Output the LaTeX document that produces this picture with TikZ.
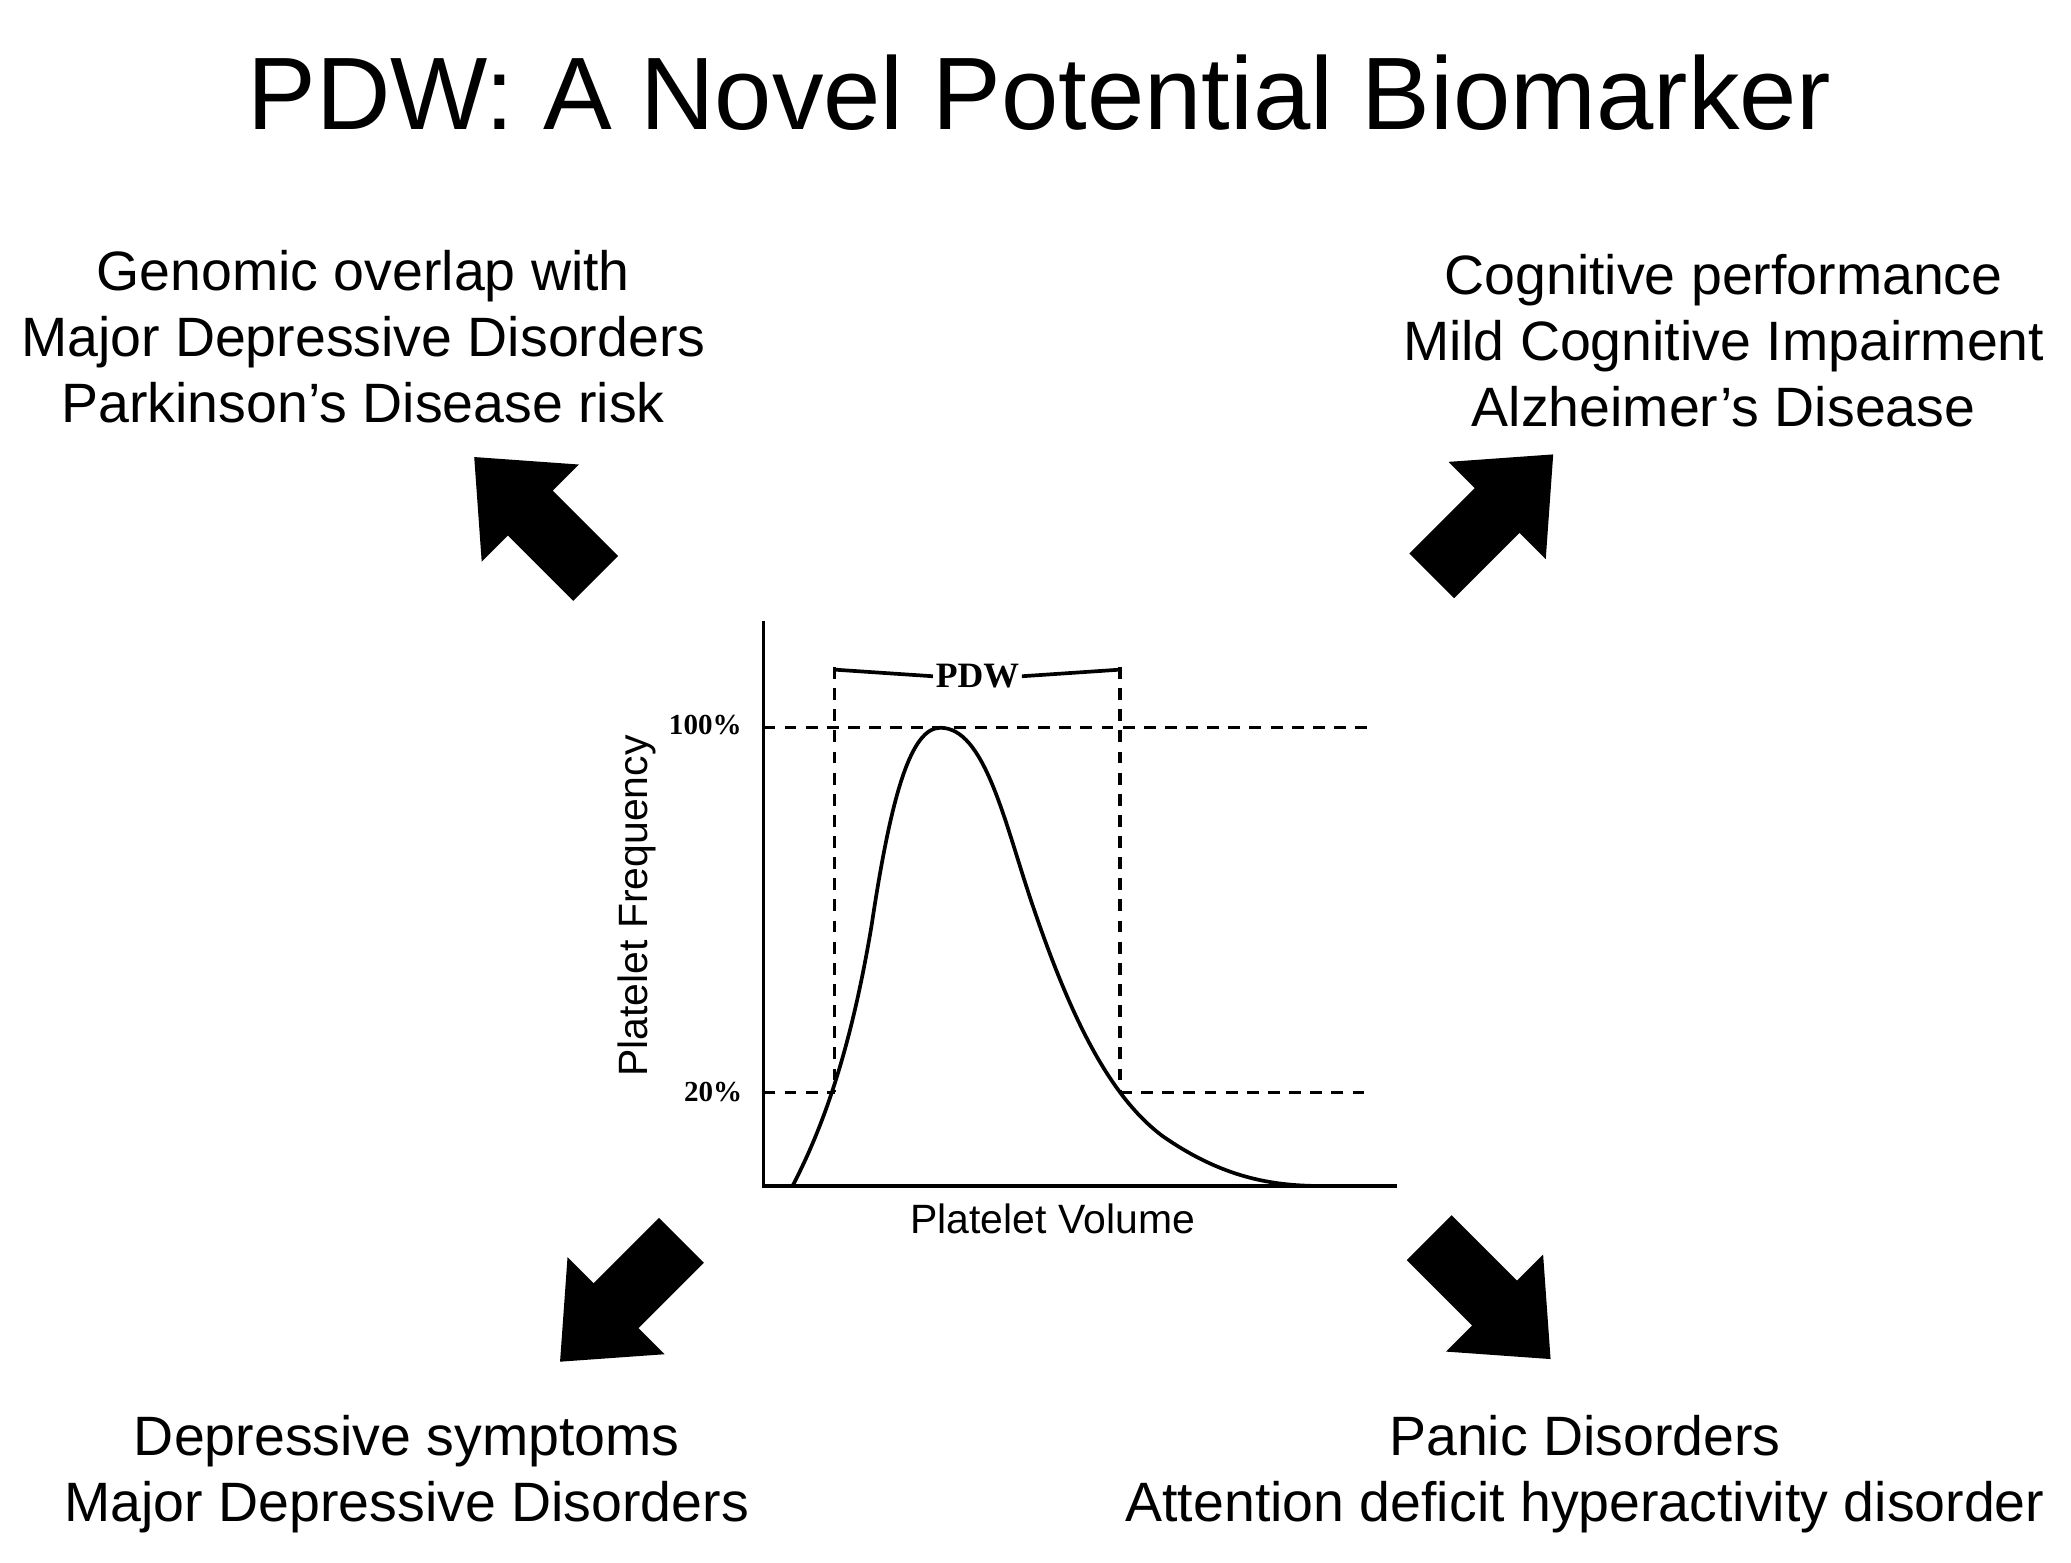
\documentclass[tikz,border=0pt]{standalone}
\usepackage{fontspec}
\setmainfont{Liberation Sans}
\newfontfamily\serif{Liberation Serif}
\begin{document}
\begin{tikzpicture}[x=1pt,y=-1pt,
  lbl/.style={font=\fontsize{42}{50}\selectfont,align=center},
  dsh/.style={line width=2.6pt,dash pattern=on 9pt off 7pt},
  blk/.pic={\fill[black] (-65,-24)--(5,-24)--(5,-52)--(65,0)--(5,52)--(5,24)--(-65,24)--cycle;}]
\useasboundingbox (0,0) rectangle (1568,1183);
\node[font=\fontsize{78}{82}\selectfont] (title) at (787,70) {PDW: A Novel Potential Biomarker};
\node[lbl] (tl) at (275,255) {Genomic overlap with\\Major Depressive Disorders\\Parkinson’s Disease risk};
\node[lbl] (tr) at (1305,258) {Cognitive performance\\Mild Cognitive Impairment\\Alzheimer’s Disease};
\node[lbl] (bl) at (308,1116) {Depressive symptoms\\Major Depressive Disorders};
\node[lbl] (br) at (1200,1116) {Panic Disorders\\Attention deficit hyperactivity disorder};
\pic[rotate=135] at (405,392) {blk};
\pic[rotate=45] at (1130,390) {blk};
\pic[rotate=-135] at (470,985) {blk};
\pic[rotate=-45] at (1128,983) {blk};
% chart
\coordinate (o) at (578,898);
\draw[line width=2.8pt] (578,470)--(o)--(1058,898);
\draw[dsh] (578,551)--(1035,551);
\draw[dsh] (578,827)--(632,827);
\draw[dsh] (848,827)--(1035,827);
\draw[dsh] (632,505)--(632,827);
\draw[dsh] (848,505)--(848,827);
\draw[line width=2.8pt] (600,898) .. controls (625,850) and (645,790) .. (660,700)
  .. controls (675,600) and (690,551) .. (712,551)
  .. controls (745,551) and (760,620) .. (780,680)
  .. controls (810,770) and (840,830) .. (880,860)
  .. controls (930,895) and (970,898) .. (1005,898);
\node[font=\serif\bfseries\fontsize{27}{30}\selectfont,inner sep=2pt] (pdw) at (740,512) {PDW};
\draw[line width=2.8pt] (632,507)--(pdw.west) (pdw.east)--(848,507);
\node[font=\serif\bfseries\fontsize{22}{24}\selectfont] (p100) at (534,549) {100\%};
\node[font=\serif\bfseries\fontsize{22}{24}\selectfont] (p20) at (540,827) {20\%};
\node[font=\fontsize{31}{34}\selectfont,rotate=90] (yl) at (482,686) {Platelet Frequency};
\node[font=\fontsize{31}{34}\selectfont] (xl) at (797,923) {Platelet Volume};
\end{tikzpicture}
\end{document}
